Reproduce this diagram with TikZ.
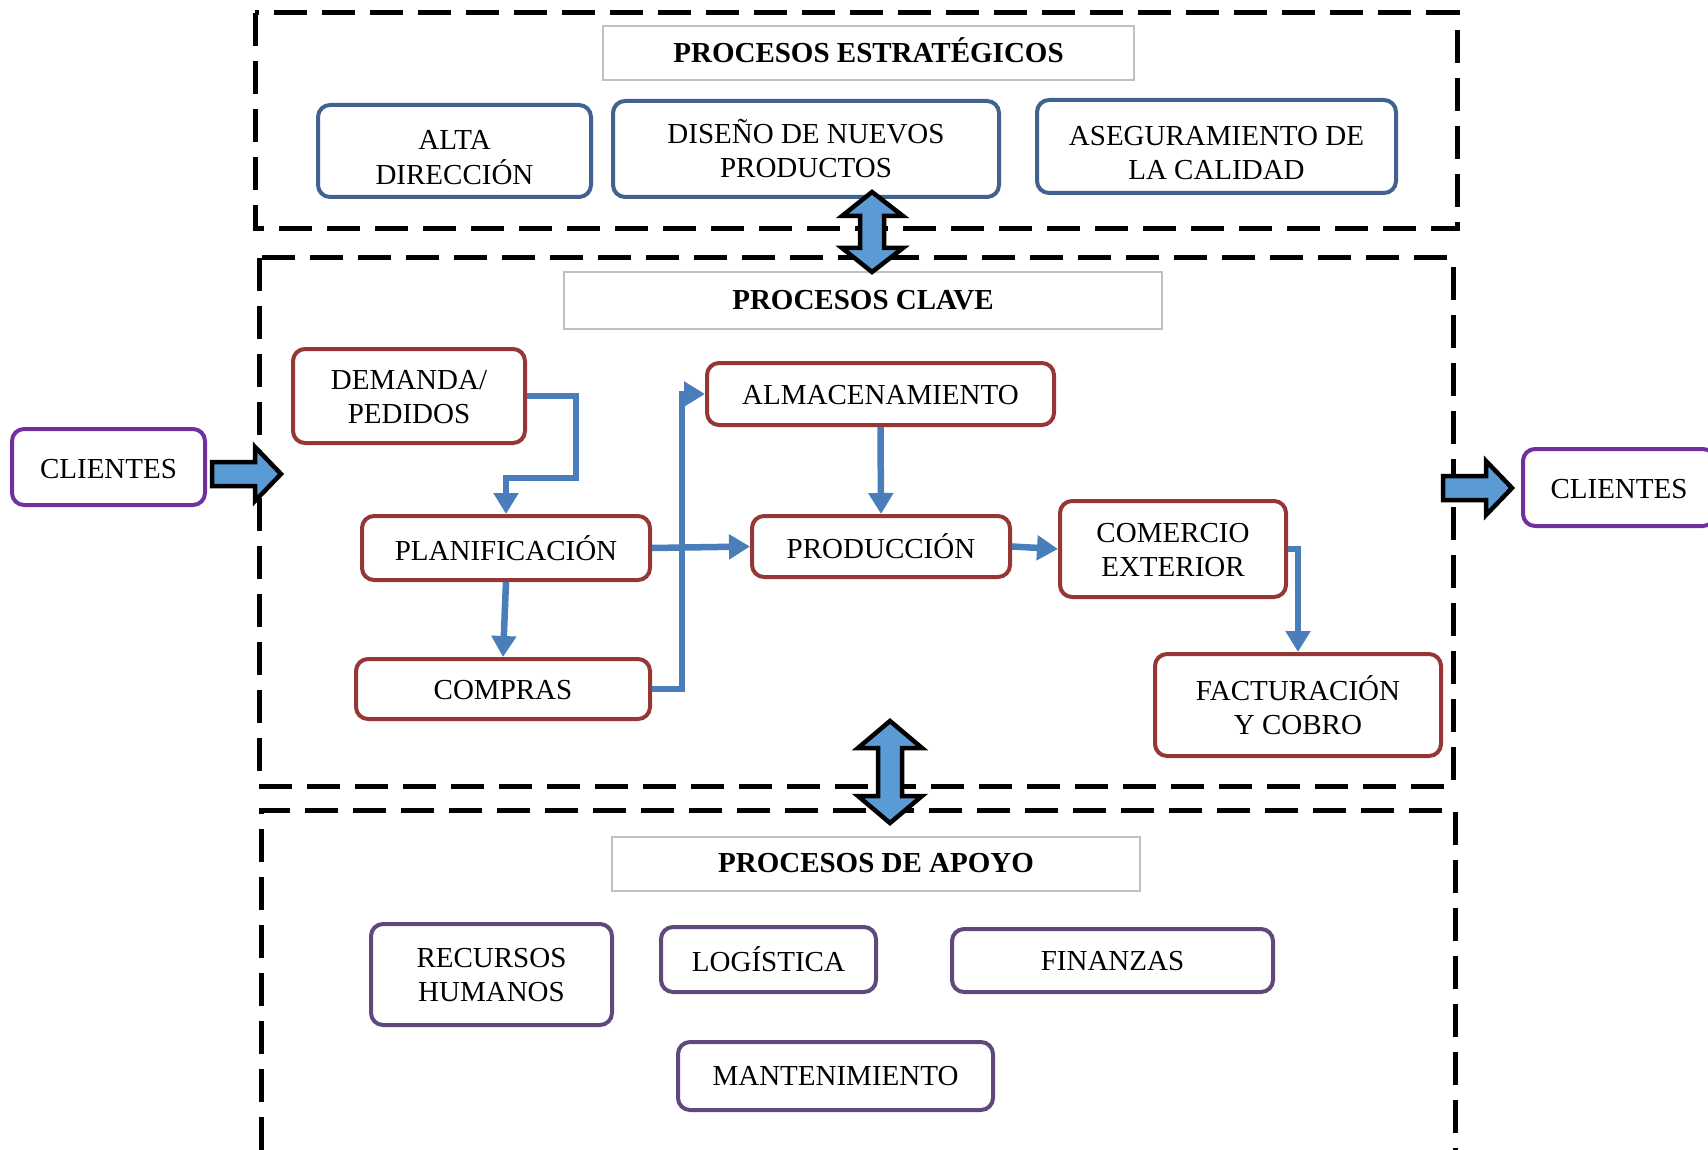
\documentclass[tikz,border=0pt]{standalone}
\usepackage{fontspec}
\setmainfont{Liberation Serif}
\usetikzlibrary{arrows.meta}

\definecolor{estBlue}{RGB}{65,98,142}
\definecolor{claveRed}{RGB}{149,55,53}
\definecolor{apoyoPurple}{RGB}{96,73,122}
\definecolor{clientePurple}{RGB}{112,48,160}
\definecolor{flowBlue}{RGB}{74,126,187}
\definecolor{arrowFill}{RGB}{91,155,213}
\definecolor{titleGray}{RGB}{191,191,191}

% text set a little lower in its box
\newcommand{\lowtext}[2]{\raisebox{-#1}[\height][\depth]{\begin{tabular}{@{}c@{}}#2\end{tabular}}}

\begin{document}
\begin{tikzpicture}[x=1pt,y=-1pt,
    every node/.style={font=\fontsize{29}{34}\selectfont, align=center, inner sep=0pt},
    zone/.style={black, line width=5pt, dash pattern=on 33pt off 15pt},
    titlebox/.style={draw=titleGray, line width=1.5pt, font=\fontsize{29}{34}\selectfont\bfseries},
    procbox/.style={draw, line width=4pt, rounded corners=12pt, fill=white},
    est/.style={procbox, draw=estBlue},
    clave/.style={procbox, draw=claveRed},
    apoyo/.style={procbox, draw=apoyoPurple},
    cliente/.style={procbox, draw=clientePurple},
    flow/.style={flowBlue, line width=6.5pt, -{Triangle[length=21pt,width=24pt]}},
    blockarrow/.style={fill=arrowFill, draw=black, line width=4.5pt, line join=miter}
  ]
  \useasboundingbox (0,0) rectangle (1708,1150);

  % ====================================================
  % ZONES
  % ====================================================
  \draw[zone] (255,13) rectangle (1457,229);
  \draw[zone] (259,258) rectangle (1453,786);
  \draw[zone] (261,1150) -- (261,810) -- (1455,810) -- (1455,1150);

  % ====================================================
  % PROCESOS ESTRATEGICOS
  % ====================================================
  \begin{scope}
    \node[titlebox, minimum width=531, minimum height=54] (tEst) at (868.5,53) {\lowtext{2pt}{PROCESOS ESTRATÉGICOS}};

    \node[est, minimum width=273, minimum height=92] (alta) at (454.5,151) {\lowtext{9pt}{ALTA\\DIRECCIÓN}};
    \node[est, minimum width=386, minimum height=96] (diseno) at (806,149) {\lowtext{4pt}{DISEÑO DE NUEVOS\\PRODUCTOS}};
    \node[est, minimum width=359, minimum height=93] (asegur) at (1216.5,146.5) {\lowtext{9pt}{ASEGURAMIENTO DE\\LA CALIDAD}};
  \end{scope}

  % ====================================================
  % PROCESOS CLAVE
  % ====================================================
  \begin{scope}
    \node[titlebox, minimum width=598, minimum height=57] (tClave) at (863,300.5) {\lowtext{2pt}{PROCESOS CLAVE}};

    \node[clave, minimum width=232, minimum height=94] (demanda) at (409,396) {\lowtext{4pt}{DEMANDA/\\PEDIDOS}};
    \node[clave, minimum width=288, minimum height=64] (planif) at (506,548) {PLANIFICACIÓN};
    \node[clave, minimum width=294, minimum height=60] (compras) at (503,689) {\lowtext{4pt}{COMPRAS}};
    \node[clave, minimum width=347, minimum height=62] (almac) at (880.5,394) {\lowtext{4pt}{ALMACENAMIENTO}};
    \node[clave, minimum width=258, minimum height=61] (produc) at (881,546.5) {PRODUCCIÓN};
    \node[clave, minimum width=226, minimum height=96] (comercio) at (1173,549) {\lowtext{4pt}{COMERCIO\\EXTERIOR}};
    \node[clave, minimum width=286, minimum height=102] (factur) at (1298,705) {FACTURACIÓN\\Y COBRO};

    % flow between key processes
    \draw[flow] (demanda.east) -- ++(49,0) -- ++(0,82) -| (planif.north);
    \draw[flow] (planif.south) -- (compras.north);
    \draw[flow] (planif.east) -- (produc.west);
    \draw[flow] (compras.east) -- ++(30,0) |- (almac.west);
    \draw[flow] (almac.south) -- (produc.north);
    \draw[flow] (produc.east) -- (comercio.west);
    \draw[flow] (comercio.east) -| (factur.north);
  \end{scope}

  % ====================================================
  % PROCESOS DE APOYO
  % ====================================================
  \begin{scope}
    \node[titlebox, minimum width=528, minimum height=54] (tApoyo) at (876,864) {\lowtext{2pt}{PROCESOS DE APOYO}};

    \node[apoyo, minimum width=241, minimum height=101] (rrhh) at (491.5,974.5) {\lowtext{3pt}{RECURSOS\\HUMANOS}};
    \node[apoyo, minimum width=215, minimum height=65] (logist) at (768.5,959.5) {LOGÍSTICA};
    \node[apoyo, minimum width=321, minimum height=63] (finanz) at (1112.5,960.5) {\lowtext{3pt}{FINANZAS}};
    \node[apoyo, minimum width=315, minimum height=68] (mante) at (835.5,1076) {\lowtext{3pt}{MANTENIMIENTO}};
  \end{scope}

  % ====================================================
  % CLIENTES AND BLOCK ARROWS
  % ====================================================
  \node[cliente, minimum width=193, minimum height=76] (cliIn) at (108.5,467) {\lowtext{5pt}{CLIENTES}};
  \node[cliente, minimum width=192, minimum height=77] (cliOut) at (1619,487.5) {\lowtext{4pt}{CLIENTES}};

  \draw[blockarrow] (212,462) -- (255,462) -- (255,447) -- (281,474) -- (255,501) -- (255,486) -- (212,486) -- cycle;
  \draw[blockarrow] (1443,476) -- (1486,476) -- (1486,461) -- (1512,488) -- (1486,515) -- (1486,500) -- (1443,500) -- cycle;

  % strategic <-> key
  \draw[blockarrow] (872,192) -- (903,216) -- (884,216) -- (884,248) -- (903,248) -- (872,272)
    -- (842,248) -- (860,248) -- (860,216) -- (842,216) -- cycle;
  % key <-> support
  \draw[blockarrow] (890,721) -- (922,748) -- (902,748) -- (902,796) -- (922,796) -- (890,823)
    -- (858,796) -- (878,796) -- (878,748) -- (858,748) -- cycle;
\end{tikzpicture}
\end{document}
